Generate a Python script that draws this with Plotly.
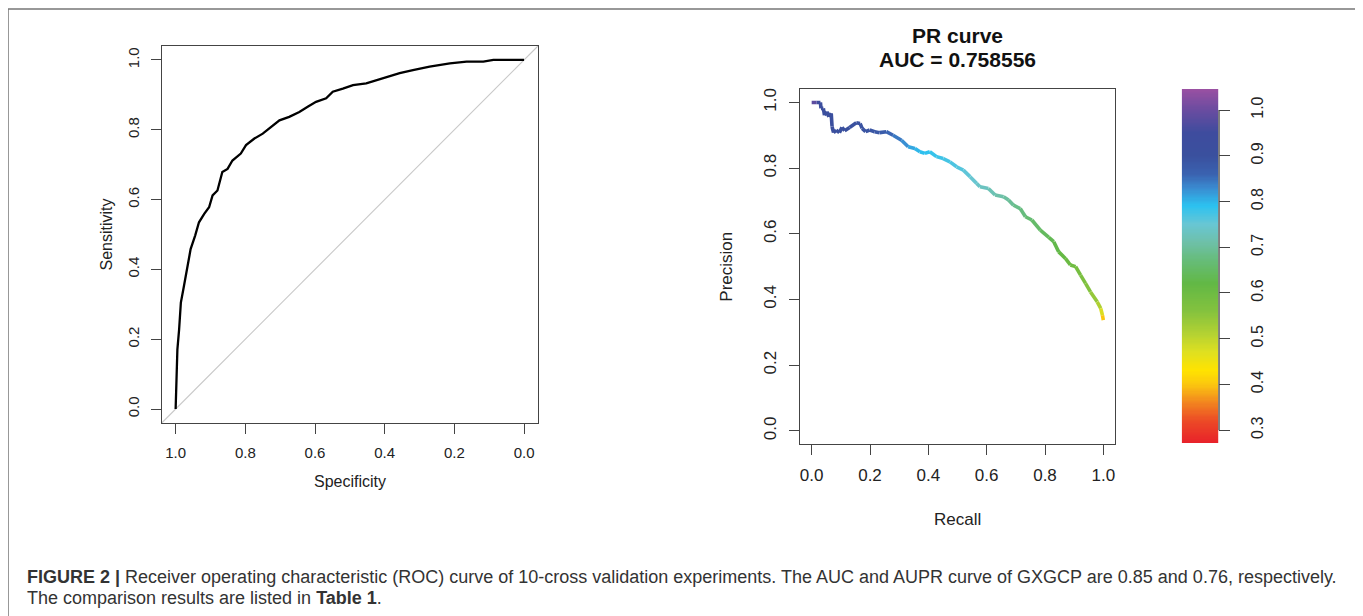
import numpy as np
import plotly.graph_objects as go

# ---------------- data ----------------
roc_specificity = [1.000, 0.998, 0.995, 0.990, 0.985, 0.976, 0.968, 0.957, 0.944, 0.933,
                   0.918, 0.904, 0.894, 0.880, 0.866, 0.851, 0.837, 0.813, 0.798, 0.774,
                   0.750, 0.726, 0.702, 0.674, 0.645, 0.621, 0.597, 0.568, 0.549, 0.520,
                   0.491, 0.453, 0.424, 0.395, 0.357, 0.319, 0.271, 0.213, 0.165, 0.117,
                   0.088, 0.000]
roc_sensitivity = [0.000, 0.065, 0.170, 0.228, 0.305, 0.353, 0.400, 0.458, 0.497, 0.535,
                   0.559, 0.578, 0.612, 0.626, 0.679, 0.688, 0.712, 0.732, 0.756, 0.775,
                   0.789, 0.808, 0.827, 0.837, 0.851, 0.866, 0.880, 0.890, 0.909, 0.918,
                   0.928, 0.933, 0.942, 0.952, 0.962, 0.971, 0.981, 0.990, 0.995, 0.995,
                   1.000, 1.000]

pr_recall = [0.000, 0.017, 0.030, 0.032, 0.040, 0.044, 0.052, 0.059, 0.067, 0.070,
             0.075, 0.084, 0.095, 0.104, 0.113, 0.130, 0.153, 0.166, 0.173, 0.185,
             0.199, 0.216, 0.233, 0.256, 0.279, 0.308, 0.331, 0.354, 0.371, 0.388,
             0.405, 0.428, 0.451, 0.474, 0.497, 0.520, 0.543, 0.566, 0.577, 0.606,
             0.629, 0.658, 0.675, 0.692, 0.715, 0.733, 0.755, 0.784, 0.813, 0.830,
             0.847, 0.870, 0.887, 0.905, 0.922, 0.939, 0.956, 0.979, 0.991, 0.997,
             1.000]
pr_precision = [1.000, 1.000, 1.000, 0.982, 0.982, 0.961, 0.972, 0.956, 0.967, 0.926,
                0.908, 0.916, 0.908, 0.924, 0.914, 0.924, 0.938, 0.936, 0.921, 0.911,
                0.916, 0.911, 0.908, 0.911, 0.900, 0.885, 0.865, 0.860, 0.850, 0.845,
                0.850, 0.835, 0.829, 0.819, 0.804, 0.794, 0.774, 0.753, 0.743, 0.738,
                0.718, 0.713, 0.703, 0.687, 0.677, 0.652, 0.642, 0.611, 0.589, 0.576,
                0.545, 0.525, 0.505, 0.500, 0.474, 0.449, 0.423, 0.393, 0.373, 0.352,
                0.337]
pr_threshold = [1.000, 0.970, 0.930, 0.920, 0.920, 0.915, 0.915, 0.912, 0.910, 0.910,
                0.908, 0.906, 0.904, 0.902, 0.900, 0.898, 0.896, 0.894, 0.892, 0.890,
                0.888, 0.885, 0.880, 0.865, 0.850, 0.835, 0.818, 0.802, 0.795, 0.790,
                0.786, 0.781, 0.776, 0.771, 0.766, 0.760, 0.752, 0.742, 0.737, 0.726,
                0.716, 0.706, 0.700, 0.690, 0.680, 0.670, 0.660, 0.650, 0.640, 0.630,
                0.620, 0.610, 0.600, 0.590, 0.580, 0.570, 0.555, 0.530, 0.500, 0.450,
                0.350]

auc_pr = 0.758556
axis_ticks = [0.0, 0.2, 0.4, 0.6, 0.8, 1.0]
cbar_ticks = [0.3, 0.4, 0.5, 0.6, 0.7, 0.8, 0.9, 1.0]
cbar_min, cbar_max = 0.272, 1.046

caption_line1 = ("<b>FIGURE 2 |</b> Receiver operating characteristic (ROC) curve of 10-cross "
                 "validation experiments. The AUC and AUPR curve of GXGCP are 0.85 and 0.76, "
                 "respectively.")
caption_line2 = "The comparison results are listed in <b>Table 1</b>."

# ---------------- colour scale (value -> colour) ----------------
cs_values = [0.272, 0.32, 0.36, 0.40, 0.43, 0.47, 0.51, 0.56, 0.62, 0.67, 0.71, 0.75,
             0.79, 0.83, 0.86, 0.90, 0.95, 1.00, 1.046]
cs_colors = ["#e8222a", "#ec4a26", "#f2851f", "#fbc70f", "#ffe300", "#dfe020", "#b4d232",
             "#84c23e", "#62b845", "#66bc78", "#6ec0a8", "#68c6d4", "#2cc2f0", "#3a8ad0",
             "#3a62b0", "#3a509e", "#3e4c9e", "#6a4ca0", "#9a50a2"]


def hex2rgb(h):
    h = h.lstrip("#")
    return [int(h[i:i + 2], 16) for i in (0, 2, 4)]


cs_rgb = np.array([hex2rgb(c) for c in cs_colors], dtype=float)


def color_at(v):
    r = np.interp(v, cs_values, cs_rgb[:, 0])
    g = np.interp(v, cs_values, cs_rgb[:, 1])
    b = np.interp(v, cs_values, cs_rgb[:, 2])
    return f"rgb({int(round(r))},{int(round(g))},{int(round(b))})"


span = cs_values[-1] - cs_values[0]
plotly_cs = [[(v - cs_values[0]) / span, c] for v, c in zip(cs_values, cs_colors)]

# page body has an 8px default margin; the figure fills the rest of the window
OFF = 8
W, H = 1363 - OFF, 616 - OFF
TXT = "#222222"
BOX = "#444444"
FONT = "Liberation Sans, Arial"


def px_x(p):
    return (p - OFF) / W


def px_y(p):
    return 1 - (p - OFF) / H


fig = go.Figure()

# ROC curve
fig.add_trace(go.Scatter(x=roc_specificity, y=roc_sensitivity, mode="lines",
                         line=dict(color="black", width=2.3), xaxis="x", yaxis="y",
                         showlegend=False, hoverinfo="skip"))

# PR curve, coloured by threshold
for i in range(len(pr_recall) - 1):
    c = color_at((pr_threshold[i] + pr_threshold[i + 1]) / 2)
    fig.add_trace(go.Scatter(x=pr_recall[i:i + 2], y=pr_precision[i:i + 2], mode="lines",
                             line=dict(color=c, width=3.6), xaxis="x2", yaxis="y2",
                             showlegend=False, hoverinfo="skip"))

# colour bar drawn as a heatmap on its own axes
cb_vals = np.linspace(cbar_min, cbar_max, 300)
fig.add_trace(go.Heatmap(x=[0], y=cb_vals, z=[[v] for v in cb_vals], colorscale=plotly_cs,
                         zmin=cbar_min, zmax=cbar_max, showscale=False, xaxis="x3", yaxis="y3",
                         hoverinfo="skip"))

tickfont_roc = dict(family=FONT, size=15, color=TXT)
tickfont_pr = dict(family=FONT, size=17, color=TXT)

common = dict(showgrid=False, zeroline=False, showline=True, linecolor=BOX, linewidth=1.3,
              mirror=True, ticks="outside", ticklen=10, tickcolor=BOX, tickwidth=1.3,
              tickvals=axis_ticks, tickformat=".1f")

fig.update_layout(
    width=W, height=H, margin=dict(l=0, r=0, t=0, b=0),
    paper_bgcolor="white", plot_bgcolor="white",
    xaxis=dict(domain=[px_x(161.7), px_x(538)], range=[1.04, -0.04], anchor="y",
               tickfont=tickfont_roc, ticklabelstandoff=6, **common),
    yaxis=dict(domain=[px_y(423), px_y(46)], range=[-0.04, 1.04], anchor="x",
               tickfont=tickfont_roc, tickangle=-90, ticklabelstandoff=6, **common),
    xaxis2=dict(domain=[px_x(800), px_x(1115)], range=[-0.04, 1.04], anchor="y2",
                tickfont=tickfont_pr, ticklabelstandoff=5, **common),
    yaxis2=dict(domain=[px_y(444), px_y(89.3)], range=[-0.04, 1.04], anchor="x2",
                tickfont=tickfont_pr, tickangle=-90, ticklabelstandoff=6, **common),
    xaxis3=dict(domain=[px_x(1181.7), px_x(1218.3)], range=[-0.5, 0.5], anchor="y3",
                showticklabels=False, ticks="", showline=False, showgrid=False, zeroline=False),
    yaxis3=dict(domain=[px_y(443), px_y(89)], range=[cbar_min, cbar_max], anchor="x3",
                side="right", showline=False, showgrid=False, zeroline=False,
                ticks="outside", ticklen=11, tickcolor=BOX, tickwidth=1.3,
                tickvals=cbar_ticks, tickformat=".1f", tickangle=-90,
                tickfont=dict(family=FONT, size=16, color=TXT),
                ticklabelstandoff=13),
)

shapes = [
    # figure frame
    dict(type="rect", xref="paper", yref="paper", x0=px_x(8), x1=px_x(1356), y0=-0.1,
         y1=px_y(9), line=dict(color="#777777", width=1.5), layer="below"),
    # ROC chance diagonal
    dict(type="line", xref="x domain", yref="y domain", x0=0, y0=0, x1=1, y1=1,
         line=dict(color="#c8c8c8", width=1.1), layer="below"),
    # colour-bar axis line
    dict(type="line", xref="x3 domain", yref="y3", x0=1.02, x1=1.02,
         y0=min(cbar_ticks), y1=max(cbar_ticks), line=dict(color=BOX, width=1.3)),
]
fig.update_layout(shapes=shapes)

ann = [
    dict(text="Specificity", x=px_x(349.9), y=px_y(481.7), font=dict(size=16)),
    dict(text="Sensitivity", x=px_x(106), y=px_y(234.5), textangle=-90, font=dict(size=16)),
    dict(text="Recall", x=px_x(957.5), y=px_y(519), font=dict(size=17)),
    dict(text="Precision", x=px_x(727), y=px_y(266.7), textangle=-90, font=dict(size=17)),
    dict(text="<b>PR curve</b>", x=px_x(957.5), y=px_y(35), font=dict(size=21, color="#111")),
    dict(text=f"<b>AUC = {auc_pr}</b>", x=px_x(957.5), y=px_y(60),
         font=dict(size=21, color="#111")),
]
for a in ann:
    f = dict(family=FONT, color=TXT)
    f.update(a.pop("font"))
    fig.add_annotation(xref="paper", yref="paper", showarrow=False, xanchor="center",
                       yanchor="middle", font=f, **a)

for txt, yy in [(caption_line1, 577), (caption_line2, 598)]:
    fig.add_annotation(text=txt, xref="paper", yref="paper", x=px_x(25), y=px_y(yy),
                       xanchor="left", yanchor="middle", align="left", showarrow=False,
                       font=dict(family=FONT, size=18, color="#333333"))

fig.write_html("out.html")
